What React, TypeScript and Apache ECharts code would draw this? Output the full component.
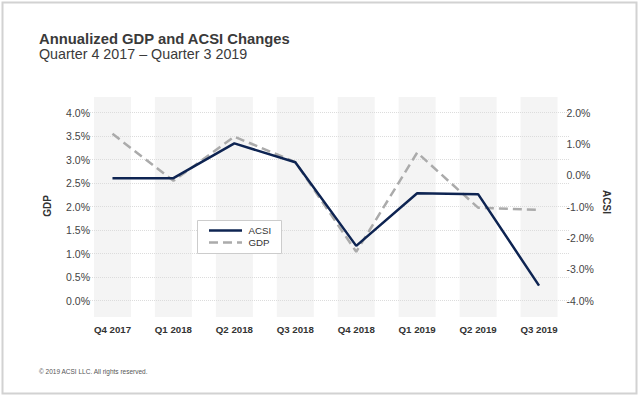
import React, { useEffect, useRef } from "react";
import * as echarts from "echarts";

const categories = ["Q4 2017", "Q1 2018", "Q2 2018", "Q3 2018", "Q4 2018", "Q1 2019", "Q2 2019", "Q3 2019"];
const acsiValues = [-0.09, -0.09, 1.02, 0.42, -2.25, -0.57, -0.6, -3.52];
const gdpValues = [3.55, 2.55, 3.49, 2.95, 1.04, 3.15, 1.98, 1.93];
const bandValues = categories.map(() => 1);
const legendNames = ["ACSI", "GDP"];

const FONT = "'Liberation Sans', Arial, Helvetica, sans-serif";
const ACSI_COLOR = "#0e2452";
const GDP_COLOR = "#ababab";
const GDP_DASH = [9, 5];

export default function App() {
  const ref = useRef<HTMLDivElement>(null);
  useEffect(() => {
    if (!ref.current) return;
    const chart = echarts.init(ref.current, undefined, { renderer: "svg" });
    const gridLeft = 82;
    const gridRight = 70.5;
    chart.setOption({
      animation: false,
      backgroundColor: "#ffffff",
      textStyle: { fontFamily: FONT },
      graphic: [
        {
          type: "rect",
          shape: { x: 2.5, y: 2.5, width: 634, height: 391 },
          style: { fill: "none", stroke: "#d2d2d2", lineWidth: 2 },
          silent: true,
        },
        {
          type: "text",
          left: 39,
          top: 31,
          style: {
            text: "Annualized GDP and ACSI Changes",
            font: `bold 14.8px ${FONT}`,
            lineHeight: 13,
            fill: "#3a3a3a",
          },
        },
        {
          type: "text",
          left: 39,
          top: 46.5,
          style: {
            text: "Quarter 4 2017 – Quarter 3 2019",
            font: `14.3px ${FONT}`,
            lineHeight: 12,
            fill: "#3a3a3a",
          },
        },
        {
          type: "text",
          x: 47,
          y: 206,
          rotation: Math.PI / 2,
          style: { text: "GDP", font: `bold 10px ${FONT}`, fill: "#333", align: "center", verticalAlign: "middle" },
        },
        {
          type: "text",
          x: 606,
          y: 202,
          rotation: -Math.PI / 2,
          style: { text: "ACSI", font: `bold 10px ${FONT}`, fill: "#333", align: "center", verticalAlign: "middle" },
        },
        {
          type: "text",
          left: 39,
          top: 368,
          style: { text: "© 2019 ACSI LLC. All rights reserved.", font: `6.5px ${FONT}`, fill: "#555" },
        },
        {
          type: "rect",
          z: 100,
          shape: { x: 197.5, y: 220.5, width: 84, height: 33 },
          style: { fill: "#ffffff", stroke: "#cccccc", lineWidth: 1 },
        },
        {
          type: "line",
          z: 101,
          shape: { x1: 209, y1: 230.5, x2: 242, y2: 230.5 },
          style: { stroke: ACSI_COLOR, lineWidth: 2.5 },
        },
        {
          type: "line",
          z: 101,
          shape: { x1: 209, y1: 242.5, x2: 242, y2: 242.5 },
          style: { stroke: GDP_COLOR, lineWidth: 2.5, lineDash: GDP_DASH },
        },
        {
          type: "text",
          z: 101,
          x: 248.5,
          y: 230.5,
          style: { text: legendNames[0], font: `9.7px ${FONT}`, fill: "#333", verticalAlign: "middle" },
        },
        {
          type: "text",
          z: 101,
          x: 248.5,
          y: 242.5,
          style: { text: legendNames[1], font: `9.7px ${FONT}`, fill: "#333", verticalAlign: "middle" },
        },
      ],
      grid: [
        { left: gridLeft, right: gridRight, top: 112.7, height: 188, containLabel: false },
        { left: gridLeft, right: gridRight, top: 97, height: 220, containLabel: false },
      ],
      xAxis: [
        {
          type: "category",
          gridIndex: 0,
          data: categories,
          boundaryGap: true,
          axisLine: { show: false },
          axisTick: { show: false },
          axisLabel: { margin: 24, fontSize: 9.7, fontWeight: "bold", color: "#333", fontFamily: FONT },
        },
        {
          type: "category",
          gridIndex: 1,
          data: categories,
          show: false,
        },
      ],
      yAxis: [
        {
          type: "value",
          gridIndex: 0,
          min: 0,
          max: 4,
          interval: 0.5,
          axisLine: { show: false },
          axisTick: { show: false },
          axisLabel: {
            margin: -8,
            fontSize: 10.5,
            color: "#444",
            fontFamily: FONT,
            formatter: (v: number) => v.toFixed(1) + "%",
          },
          splitLine: { show: true, lineStyle: { color: "#dcdcdc", type: "dotted", width: 1 } },
          z: 3,
        },
        {
          type: "value",
          gridIndex: 0,
          position: "right",
          min: -4,
          max: 2,
          interval: 1,
          axisLine: { show: false },
          axisTick: { show: false },
          splitLine: { show: false },
          axisLabel: {
            margin: -3,
            fontSize: 10.5,
            color: "#444",
            fontFamily: FONT,
            formatter: (v: number) => v.toFixed(1) + "%",
          },
        },
        {
          type: "value",
          gridIndex: 1,
          min: 0,
          max: 1,
          show: false,
          splitLine: { show: false },
        },
      ],
      series: [
        {
          name: "bands",
          type: "bar",
          xAxisIndex: 1,
          yAxisIndex: 2,
          data: bandValues,
          barWidth: 37,
          itemStyle: { color: "#f4f4f4" },
          silent: true,
          z: 0,
        },
        {
          name: legendNames[1],
          type: "line",
          xAxisIndex: 0,
          yAxisIndex: 0,
          data: gdpValues,
          symbol: "none",
          lineStyle: { color: GDP_COLOR, width: 2.5, type: GDP_DASH },
          itemStyle: { color: GDP_COLOR },
          z: 5,
        },
        {
          name: legendNames[0],
          type: "line",
          xAxisIndex: 0,
          yAxisIndex: 1,
          data: acsiValues,
          symbol: "none",
          lineStyle: { color: ACSI_COLOR, width: 2.5 },
          itemStyle: { color: ACSI_COLOR },
          z: 6,
        },
      ],
    });
    return () => chart.dispose();
  }, []);
  return <div ref={ref} style={{ position: "fixed", left: 0, top: 0, width: 640, height: 398 }} />;
}
